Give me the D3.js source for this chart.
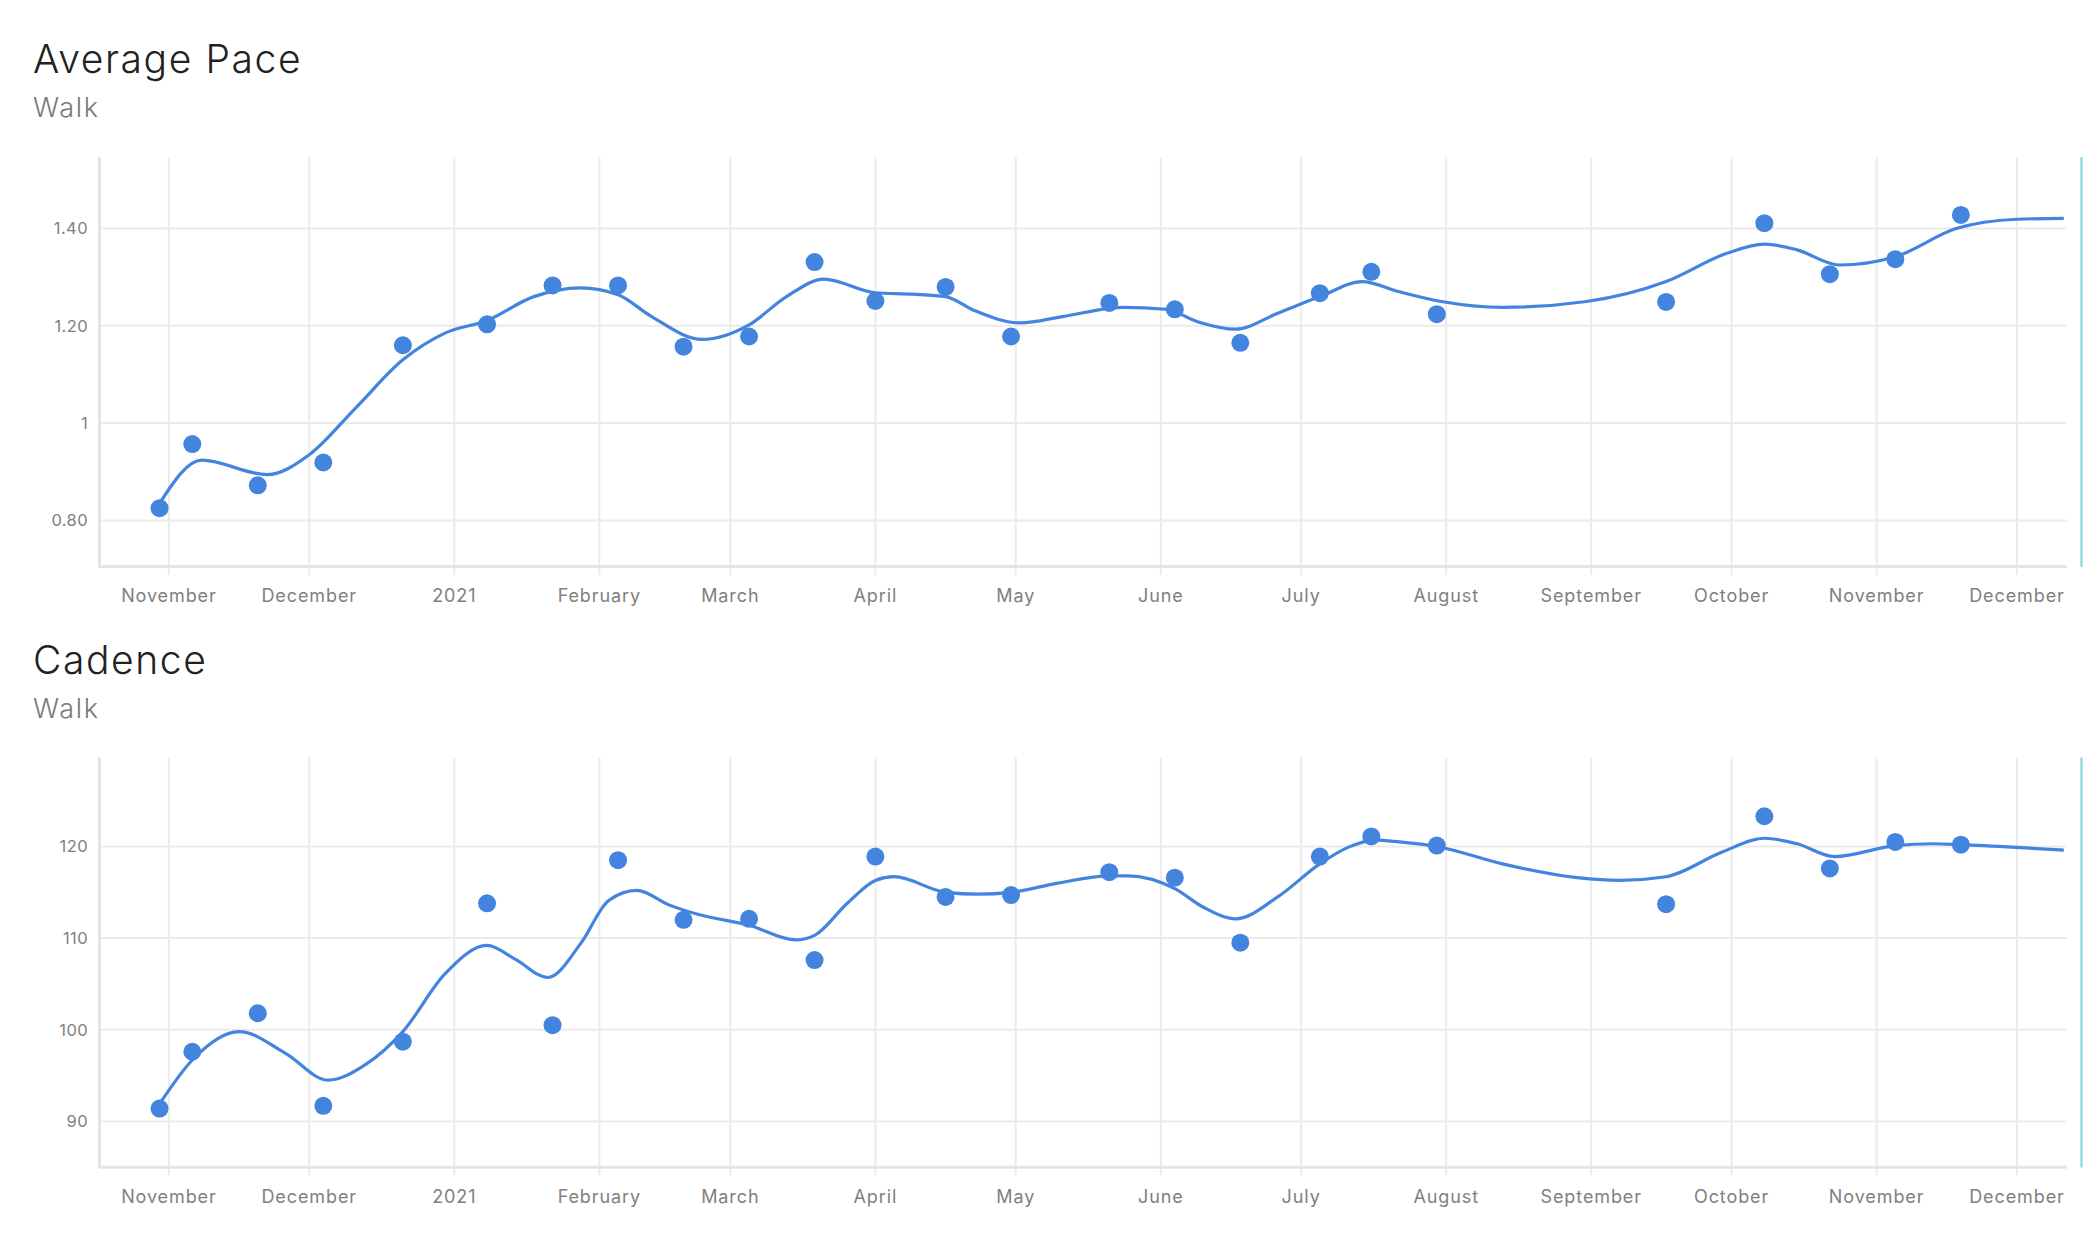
<!DOCTYPE html>
<html>
<head>
<meta charset="utf-8">
<script src="https://cdn.jsdelivr.net/npm/d3@7"></script>
<style>
  html, body { margin: 0; padding: 0; background: #ffffff; }
  svg { display: block; font-family: Inter, "Open Sans", sans-serif; }
</style>
</head>
<body>
<svg id="chart" width="2096" height="1236"></svg>
<script>
// ---------- DATA ----------
const sessionDates = ["2020-10-30","2020-11-06","2020-11-20","2020-12-04","2020-12-21","2021-01-08","2021-01-22","2021-02-05","2021-02-19","2021-03-05","2021-03-19","2021-04-01","2021-04-16","2021-04-30","2021-05-21","2021-06-04","2021-06-18","2021-07-05","2021-07-16","2021-07-30","2021-09-17","2021-10-08","2021-10-22","2021-11-05","2021-11-19"];
const paceValues = [0.825,0.957,0.872,0.919,1.160,1.203,1.283,1.283,1.157,1.178,1.331,1.251,1.280,1.178,1.247,1.234,1.165,1.267,1.311,1.224,1.249,1.411,1.306,1.337,1.428];
const cadenceValues = [91.4,97.6,101.8,91.7,98.7,113.8,100.5,118.5,112.0,112.1,107.6,118.9,114.5,114.7,117.2,116.6,109.5,118.9,121.1,120.1,113.7,123.3,117.6,120.5,120.2];

const paceTrendDates = ["2020-10-30","2020-11-08","2020-11-22","2020-12-01","2020-12-11","2020-12-21","2020-12-30","2021-01-08","2021-01-18","2021-01-28","2021-02-05","2021-02-12","2021-02-23","2021-03-05","2021-03-13","2021-03-21","2021-04-01","2021-04-09","2021-04-16","2021-04-22","2021-05-02","2021-05-11","2021-05-24","2021-06-02","2021-06-09","2021-06-17","2021-06-26","2021-07-05","2021-07-14","2021-07-22","2021-07-31","2021-08-13","2021-08-31","2021-09-17","2021-09-30","2021-10-08","2021-10-15","2021-10-24","2021-11-05","2021-11-18","2021-12-01","2021-12-11"];
const paceTrendValues = [0.835,0.924,0.894,0.935,1.032,1.130,1.185,1.211,1.260,1.278,1.264,1.220,1.172,1.202,1.260,1.296,1.268,1.265,1.260,1.232,1.206,1.219,1.238,1.234,1.208,1.193,1.226,1.260,1.291,1.270,1.250,1.238,1.250,1.291,1.349,1.368,1.356,1.325,1.342,1.400,1.419,1.421];

const cadenceTrendDates = ["2020-10-30","2020-11-06","2020-11-16","2020-11-26","2020-12-05","2020-12-13","2020-12-21","2020-12-30","2021-01-08","2021-01-14","2021-01-21","2021-01-28","2021-02-03","2021-02-09","2021-02-16","2021-02-22","2021-03-05","2021-03-15","2021-03-19","2021-03-26","2021-04-01","2021-04-05","2021-04-16","2021-04-23","2021-04-30","2021-05-10","2021-05-21","2021-05-25","2021-06-04","2021-06-10","2021-06-17","2021-06-26","2021-07-05","2021-07-11","2021-07-17","2021-07-22","2021-07-30","2021-08-13","2021-08-29","2021-09-07","2021-09-17","2021-09-29","2021-10-08","2021-10-15","2021-10-23","2021-11-05","2021-11-13","2021-11-19","2021-12-01","2021-12-11"];
const cadenceTrendValues = [91.9,96.7,99.8,97.4,94.5,96.2,99.8,106.1,109.2,107.7,105.7,109.4,114.1,115.2,113.6,112.6,111.4,109.8,110.3,113.8,116.3,116.7,115.0,114.8,115.0,116.0,116.8,116.8,115.4,113.4,112.1,114.5,118.1,119.9,120.7,120.5,120.0,118.1,116.6,116.3,116.7,119.4,120.9,120.3,118.9,120.1,120.3,120.2,119.9,119.6];

const monthTicks = ["2020-11-01","2020-12-01","2021-01-01","2021-02-01","2021-03-01","2021-04-01","2021-05-01","2021-06-01","2021-07-01","2021-08-01","2021-09-01","2021-10-01","2021-11-01","2021-12-01"];
const monthTickLabels = ["November","December","2021","February","March","April","May","June","July","August","September","October","November","December"];

const paceTicks = [0.8, 1, 1.2, 1.4];
const paceTickLabels = ["0.80","1","1.20","1.40"];
const cadenceTicks = [90, 100, 110, 120];
const cadenceTickLabels = ["90","100","110","120"];

// ---------- DRAW ----------
const parse = d3.utcParse("%Y-%m-%d");
const svg = d3.select("#chart");
const blue = "#4384df";

const x = d3.scaleUtc()
  .domain([new Date(Date.UTC(2020, 9, 17, 4)), new Date(Date.UTC(2021, 11, 11, 15))])
  .range([99.5, 2066.7]);

function panel(cfg) {
  const g = svg.append("g").attr("transform", `translate(0,${cfg.top})`);
  const y = d3.scaleLinear().domain(cfg.domain).range([566.6, 157]);

  g.append("text").attr("x", 33).attr("y", 73.3)
    .attr("font-size", 39).attr("fill", "#222").attr("font-weight", 300)
    .attr("letter-spacing", 1.6)
    .text(cfg.title);
  g.append("text").attr("x", 33).attr("y", 117.4)
    .attr("font-size", 27).attr("fill", "#7a7a7a").attr("font-weight", 300)
    .attr("letter-spacing", 1.6)
    .text(cfg.subtitle);

  // vertical grid + tick marks
  const mt = monthTicks.map(parse);
  g.append("g").selectAll("line").data(mt).join("line")
    .attr("x1", d => x(d)).attr("x2", d => x(d))
    .attr("y1", 157).attr("y2", 575)
    .attr("stroke", "#ebebeb").attr("stroke-width", 2);
  // horizontal grid
  g.append("g").selectAll("line").data(cfg.ticks).join("line")
    .attr("x1", 99.5).attr("x2", 2066.7)
    .attr("y1", d => y(d)).attr("y2", d => y(d))
    .attr("stroke", "#ebebeb").attr("stroke-width", 2);
  // axes lines
  g.append("line").attr("x1", 99.5).attr("x2", 99.5).attr("y1", 157).attr("y2", 567)
    .attr("stroke", "#e4e4e4").attr("stroke-width", 3);
  g.append("line").attr("x1", 98).attr("x2", 2066.7).attr("y1", 566.6).attr("y2", 566.6)
    .attr("stroke", "#e4e4e4").attr("stroke-width", 3);
  // cyan marker line
  g.append("line").attr("x1", 2081.5).attr("x2", 2081.5).attr("y1", 157).attr("y2", 567)
    .attr("stroke", "#7fd3dd").attr("stroke-width", 2);

  // tick labels
  g.append("g").selectAll("text").data(mt).join("text")
    .attr("x", d => x(d)).attr("y", 602)
    .attr("text-anchor", "middle").attr("font-size", 18).attr("fill", "#808080")
    .attr("letter-spacing", 0.9)
    .text((d, i) => monthTickLabels[i]);
  g.append("g").selectAll("text").data(cfg.ticks).join("text")
    .attr("x", 88).attr("y", d => y(d)).attr("dy", "0.36em")
    .attr("text-anchor", "end").attr("font-size", 16.5).attr("fill", "#808080")
    .attr("letter-spacing", 0.4)
    .text((d, i) => cfg.tickLabels[i]);

  // trend line
  const trend = cfg.trendDates.map((d, i) => ({ d: parse(d), v: cfg.trendValues[i] }));
  g.append("path").datum(trend)
    .attr("fill", "none").attr("stroke", blue).attr("stroke-width", 3.2)
    .attr("d", d3.line().x(p => x(p.d)).y(p => y(p.v)).curve(d3.curveMonotoneX));

  // points
  g.append("g").selectAll("circle").data(sessionDates).join("circle")
    .attr("cx", d => x(parse(d))).attr("cy", (d, i) => y(cfg.values[i]))
    .attr("r", 9).attr("fill", blue);
}

panel({ top: 0, title: "Average Pace", subtitle: "Walk", domain: [0.705, 1.547],
  ticks: paceTicks, tickLabels: paceTickLabels, values: paceValues,
  trendDates: paceTrendDates, trendValues: paceTrendValues });
panel({ top: 600.6, title: "Cadence", subtitle: "Walk", domain: [85, 129.7],
  ticks: cadenceTicks, tickLabels: cadenceTickLabels, values: cadenceValues,
  trendDates: cadenceTrendDates, trendValues: cadenceTrendValues });
</script>
</body>
</html>
